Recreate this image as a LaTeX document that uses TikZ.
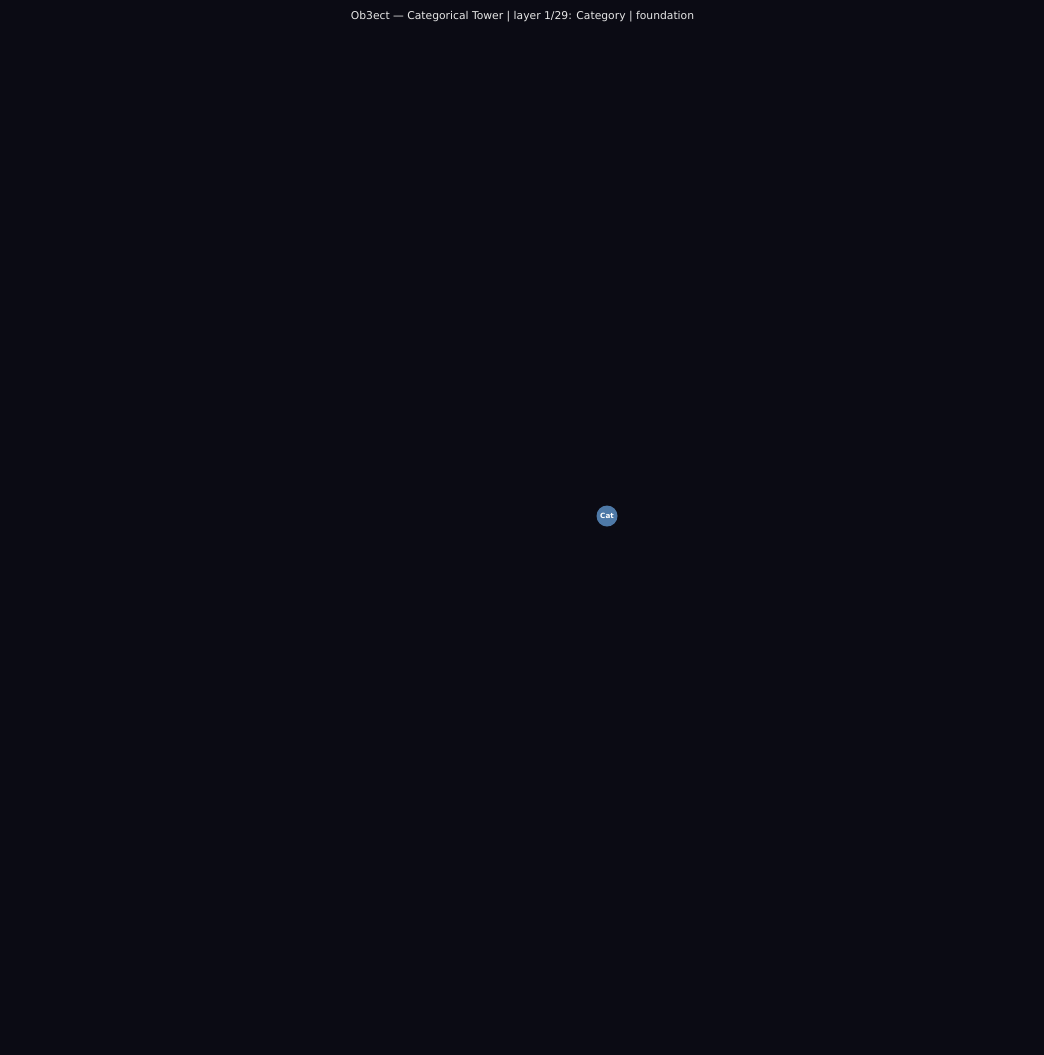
\documentclass[tikz,border=0pt]{standalone}
\usepackage{fontspec}
\setmainfont{DejaVu Sans}
\usepackage{xcolor}
\definecolor{bgdark}{HTML}{0B0B14}
\definecolor{catblue}{HTML}{4E79A7}
\definecolor{titlegrey}{HTML}{E6E6E6}
\begin{document}
\begin{tikzpicture}[x=1bp,y=-1bp,
    objnode/.style={circle, fill=catblue, minimum size=21bp, inner sep=0pt,
      text=white, font=\fontsize{7.2}{8}\selectfont\bfseries},
    titletext/.style={text=titlegrey, font=\fontsize{10.8}{13}\selectfont}]
    \fill[bgdark] (0,0) rectangle (1044,1055);
    \useasboundingbox (0,0) rectangle (1044,1055);
    \node[titletext] (title) at (522.5,16.5) {Ob3ect --- Categorical Tower | layer 1/29: Category | foundation};
    \node[objnode] (cat) at (607,516) {Cat};
\end{tikzpicture}
\end{document}
